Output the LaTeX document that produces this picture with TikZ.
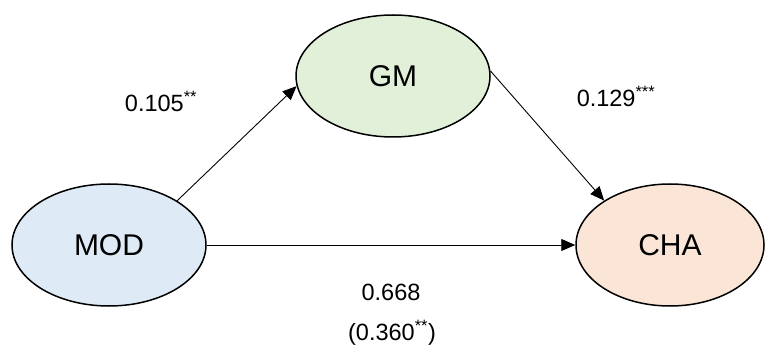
\documentclass[tikz,border=0pt]{standalone}
\usepackage{fontspec}
\setmainfont{Liberation Sans}
\usetikzlibrary{shapes.geometric,arrows.meta}
\definecolor{modfill}{HTML}{DEEBF7}
\definecolor{gmfill}{HTML}{E2F0D9}
\definecolor{chafill}{HTML}{FBE5D6}
\begin{document}
\begin{tikzpicture}[x=1pt,y=-1pt,
  var/.style={ellipse,draw=black,line width=1.5pt,minimum width=194pt,minimum height=122pt,inner sep=0pt,font=\fontsize{30}{36}\selectfont},
  path/.style={draw=black,line width=0.9pt,-{Triangle[length=14pt,width=12pt]}},
  coef/.style={font=\fontsize{23.5}{28}\selectfont,inner sep=0pt}]
\useasboundingbox (0,0) rectangle (765,347);
\node[var,fill=modfill] (mod) at (109,245) {MOD};
\node[var,fill=gmfill] (gm) at (393,76) {GM};
\node[var,fill=chafill,minimum width=188pt] (cha) at (670,245) {CHA};
\draw[path] (mod.33) -- (gm.186);
\draw[path] (gm.3) -- (cha.146);
\draw[path] (mod.east) -- (cha.west);
\node[coef] (l1) at (161,101) {0.105\textsuperscript{**}};
\node[coef] (l2) at (616,96) {0.129\textsuperscript{***}};
\node[coef] (l3) at (391,292) {0.668};
\node[coef] (l4) at (392,333) {(0.360\textsuperscript{**})};
\end{tikzpicture}
\end{document}
